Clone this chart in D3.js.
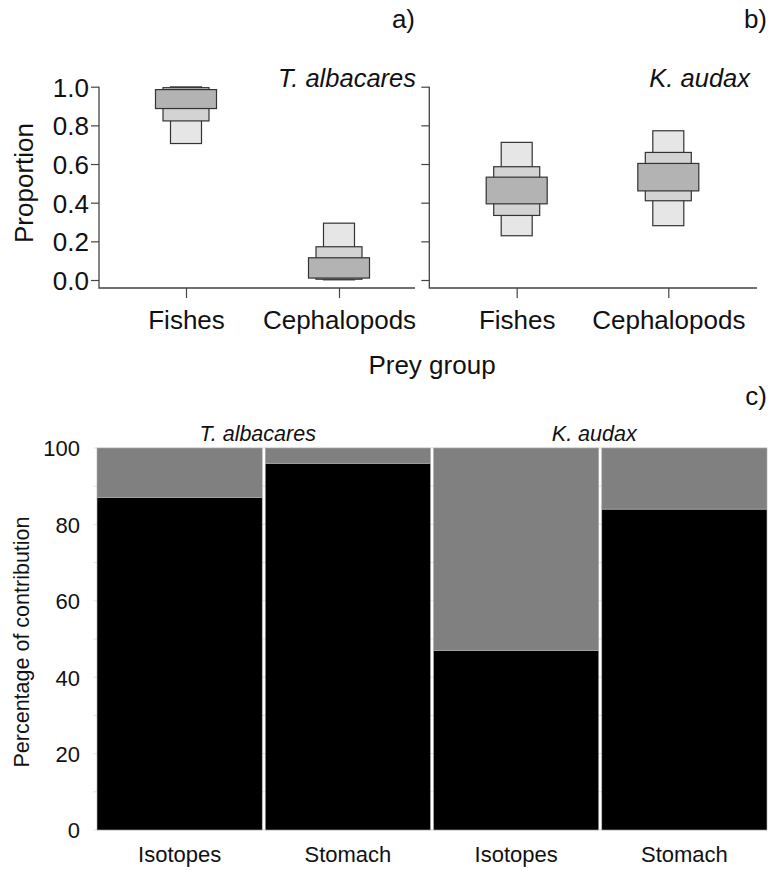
<!DOCTYPE html>
<html><head><meta charset="utf-8">
<script src="https://cdn.jsdelivr.net/npm/d3@7/dist/d3.min.js"></script>
<style>
body{margin:0;background:#fff}
svg{display:block;font-family:"Liberation Sans",Arial,Helvetica,sans-serif}
</style>
</head><body>
<svg id="chart" width="775" height="870"></svg>
<script>
// ---------- data: panels a) and b) (credible intervals of prey proportions) ----------
const preyGroups = ["Fishes", "Cephalopods"];
const speciesNames = ["T. albacares", "K. audax"];
const intervalLevels = ["95%", "75%", "50%"];
// [low, high] for 95%, 75%, 50% intervals
const albacaresFishes      = [[0.706, 0.999], [0.823, 0.995], [0.887, 0.985]];
const albacaresCephalopods = [[0.001, 0.294], [0.004, 0.172], [0.010, 0.115]];
const audaxFishes          = [[0.229, 0.712], [0.334, 0.586], [0.394, 0.532]];
const audaxCephalopods     = [[0.281, 0.772], [0.410, 0.660], [0.461, 0.603]];
const proportionTicks = [0, 0.2, 0.4, 0.6, 0.8, 1.0];

// ---------- data: panel c) (percentage of contribution) ----------
const methods = ["Isotopes", "Stomach"];
const fishesPctAlbacares = [87, 96];
const fishesPctAudax = [47, 84];
const percentTicks = [0, 20, 40, 60, 80, 100];

// ---------- drawing ----------
const svg = d3.select("#chart");
const axisCol = "#444";
const boxFills = ["#e6e6e6", "#d3d3d3", "#b3b3b3"];
const boxHalf = [15.5, 23, 30.5];

const yProp = d3.scaleLinear().domain([0, 1]).range([280, 86.7]);
const axisBaseY = 288;

const panels = [
  {name: speciesNames[0], left: 99, right: 415, pts: [186, 339], labels: true, tag: "a)", tagX: 415,
   data: [albacaresFishes, albacaresCephalopods], titleX: 416},
  {name: speciesNames[1], left: 429.3, right: 757, pts: [516.7, 668.3], labels: false, tag: "b)", tagX: 767,
   data: [audaxFishes, audaxCephalopods], titleX: 750}
];

panels.forEach(p => {
  const g = svg.append("g");
  const x = d3.scalePoint().domain(preyGroups).range(p.pts);

  // boxes (95% light first, 50% dark on top)
  preyGroups.forEach((grp, gi) => {
    const ivs = p.data[gi];
    g.selectAll(null).data(ivs.map((iv, li) => ({iv, li}))).join("rect")
      .attr("x", d => x(grp) - boxHalf[d.li])
      .attr("width", d => 2 * boxHalf[d.li])
      .attr("y", d => yProp(d.iv[1]))
      .attr("height", d => yProp(d.iv[0]) - yProp(d.iv[1]))
      .attr("fill", d => boxFills[d.li])
      .attr("stroke", "#333").attr("stroke-width", 1.2);
  });

  // y axis
  const ya = g.append("g").attr("transform", `translate(${p.left},0)`)
    .call(d3.axisLeft(yProp).tickValues(proportionTicks).tickSize(8).tickPadding(2)
      .tickFormat(p.labels ? d3.format(".1f") : ""));
  ya.select(".domain").remove();
  ya.selectAll("line").attr("stroke", axisCol).attr("stroke-width", 1.2);
  ya.attr("font-size", 26).attr("font-family", null);
  ya.selectAll("text").attr("fill", "#111").attr("dy", "0.36em");

  // x axis
  const xa = g.append("g").attr("transform", `translate(0,${axisBaseY})`)
    .call(d3.axisBottom(x).tickSize(10).tickPadding(12.5));
  xa.select(".domain").remove();
  xa.selectAll("line").attr("stroke", axisCol).attr("stroke-width", 1.2);
  xa.attr("font-size", 26).attr("font-family", null);
  xa.selectAll("text").attr("fill", "#111");

  // L-shaped frame
  g.append("path")
    .attr("d", `M${p.left},${yProp(1)}V${axisBaseY}H${p.right}`)
    .attr("fill", "none").attr("stroke", axisCol).attr("stroke-width", 1.3);

  // species title
  g.append("text").attr("x", p.titleX).attr("y", 87).attr("text-anchor", "end")
    .attr("font-size", 25.5).attr("font-style", "italic").attr("fill", "#111").text(p.name);
  // panel tag
  g.append("text").attr("x", p.tagX).attr("y", 28).attr("text-anchor", "end")
    .attr("font-size", 26).attr("fill", "#111").text(p.tag);
});

// shared labels for top panels
svg.append("text").attr("transform", "translate(33,183) rotate(-90)")
  .attr("text-anchor", "middle").attr("font-size", 26).attr("fill", "#111").text("Proportion");
svg.append("text").attr("x", 432).attr("y", 374).attr("text-anchor", "middle")
  .attr("font-size", 26).attr("fill", "#111").text("Prey group");

// ---------- panel c ----------
const yPct = d3.scaleLinear().domain([0, 100]).range([830, 448]);
const outer = d3.scaleBand().domain(speciesNames).range([97, 767]).paddingInner(0.009);
const inner = d3.scaleBand().domain(methods).range([0, outer.bandwidth()]).paddingInner(0.018);

const rows = [];
speciesNames.forEach((s, si) => {
  const vals = si === 0 ? fishesPctAlbacares : fishesPctAudax;
  methods.forEach((m, mi) => rows.push({species: s, method: m, Fishes: vals[mi], Cephalopods: 100 - vals[mi]}));
});
const stacked = d3.stack().keys(["Fishes", "Cephalopods"])(rows);
const segFill = {Fishes: "#000000", Cephalopods: "#808080"};

const gc = svg.append("g");
// gridlines behind bars
gc.selectAll(null).data(d3.range(0, 101, 10)).join("line")
  .attr("x1", 93.5).attr("x2", 767).attr("y1", d => yPct(d)).attr("y2", d => yPct(d))
  .attr("stroke", "#dedede").attr("stroke-width", 1);

stacked.forEach(layer => {
  gc.selectAll(null).data(layer).join("rect")
    .attr("x", d => outer(d.data.species) + inner(d.data.method))
    .attr("width", inner.bandwidth())
    .attr("y", d => yPct(d[1]))
    .attr("height", d => yPct(d[0]) - yPct(d[1]))
    .attr("fill", segFill[layer.key])
    .attr("stroke", "#b0b0b0").attr("stroke-width", 0.6);
});

// y axis panel c
const yc = gc.append("g").attr("transform", "translate(97,0)")
  .call(d3.axisLeft(yPct).tickValues(percentTicks).tickSize(0).tickPadding(17));
yc.select(".domain").remove();
yc.attr("font-size", 22).attr("font-family", null);
yc.selectAll("text").attr("fill", "#111").attr("dy", "0.36em");

// x labels per facet
speciesNames.forEach(s => {
  const xa = gc.append("g").attr("transform", `translate(${outer(s)},830)`)
    .call(d3.axisBottom(inner).tickSize(0).tickPadding(16.5));
  xa.select(".domain").remove();
  xa.attr("font-size", 22).attr("font-family", null);
  xa.selectAll("text").attr("fill", "#111");
  // strip label
  gc.append("text").attr("x", outer(s) + outer.bandwidth() / 2 - 6).attr("y", 441)
    .attr("text-anchor", "middle").attr("font-size", 21.5).attr("font-style", "italic")
    .attr("fill", "#111").text(s);
});

svg.append("text").attr("transform", "translate(29,642) rotate(-90)")
  .attr("text-anchor", "middle").attr("font-size", 21.5).attr("fill", "#111")
  .text("Percentage of contribution");
svg.append("text").attr("x", 767).attr("y", 405).attr("text-anchor", "end")
  .attr("font-size", 26).attr("fill", "#111").text("c)");
</script>
</body></html>
